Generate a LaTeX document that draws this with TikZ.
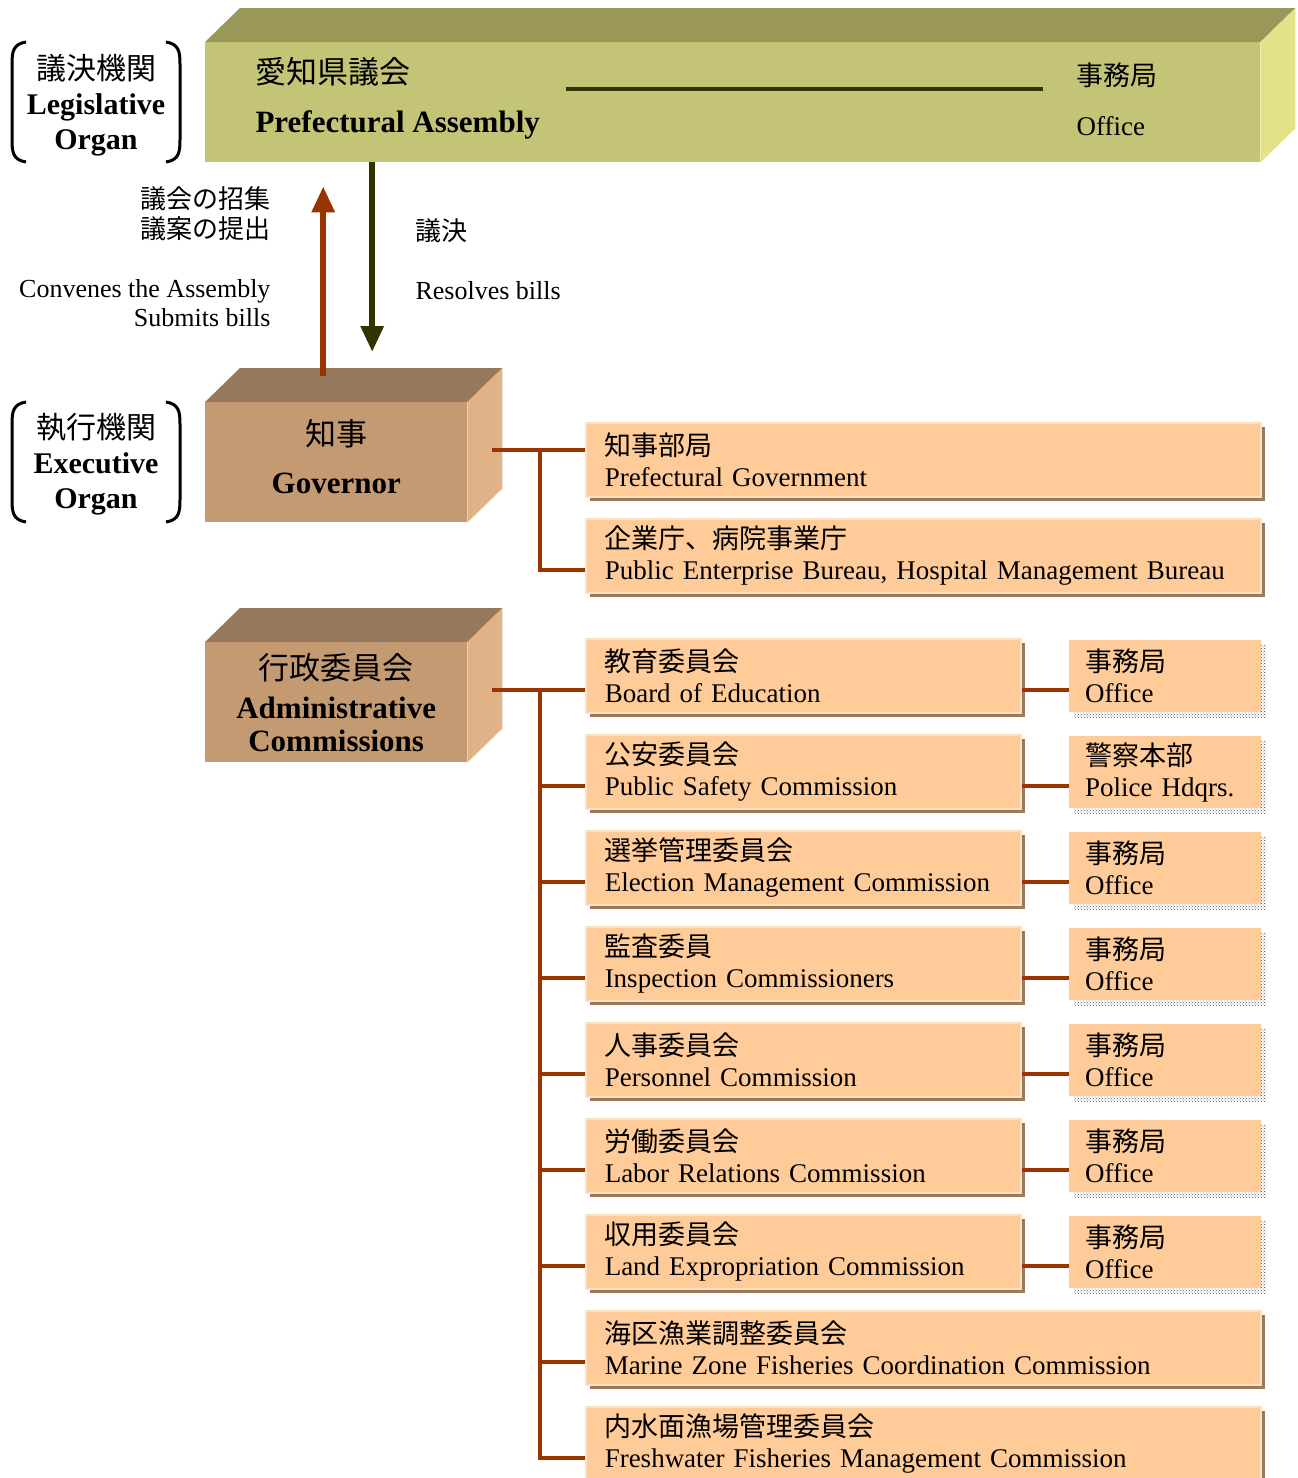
\documentclass[tikz,border=0pt]{standalone}
\usepackage{fontspec}
\setmainfont{Liberation Serif}
\newfontfamily\jp{Noto Sans CJK JP}
\usepackage{tikz}
\usetikzlibrary{positioning,calc,arrows.meta,shadows,patterns}

\definecolor{asmfront}{RGB}{196,196,118}
\definecolor{asmtop}{RGB}{153,152,89}
\definecolor{asmside}{RGB}{226,226,136}
\definecolor{exfront}{RGB}{196,154,114}
\definecolor{extop}{RGB}{150,121,91}
\definecolor{exside}{RGB}{224,178,136}
\definecolor{peach}{RGB}{255,204,153}
\definecolor{peachedge}{RGB}{255,224,190}
\definecolor{shade}{RGB}{153,122,90}
\definecolor{rust}{RGB}{153,51,0}
\definecolor{darkolive}{RGB}{51,51,0}

% top and right faces of a solid block
\newcommand{\blockfaces}[3]{%
  \fill[#2] (#1.north west) -- ++(35,-34) -- ($(#1.north east)+(35,-34)$) -- (#1.north east) -- cycle;
  \fill[#3] (#1.north east) -- ++(35,-34) -- ($(#1.south east)+(35,-34)$) -- (#1.south east) -- cycle;
}

\tikzset{
  block/.style={minimum width=262pt, minimum height=120pt, inner sep=0pt, align=center},
  organ/.style={align=center, font=\bfseries\fontsize{30}{35}\selectfont},
  unit/.style={fill=peach, draw=peachedge, line width=1.5pt, minimum height=74pt, inner sep=0pt,
    align=left, font=\fontsize{27}{31}\selectfont, anchor=north west,
    drop shadow={shadow xshift=4pt, shadow yshift=-4pt, opacity=1, fill=shade}},
  office/.style={fill=peach, minimum width=192pt, minimum height=72pt, inner sep=0pt,
    text width=160pt, align=left, font=\fontsize{27}{31}\selectfont,
    drop shadow={shadow xshift=5pt, shadow yshift=-5pt, opacity=1, pattern=crosshatch dots, pattern color=black!70}},
  link/.style={rust, line width=4pt},
  bracket/.style={line width=3pt},
}

\begin{document}
\begin{tikzpicture}[x=1pt, y=-1pt]
\clip (0,0) rectangle (1298,1478);

% assembly
\node[block, fill=asmfront, minimum width=1055pt, anchor=north west] (asm) at (205,42) {};
\blockfaces{asm}{asmtop}{asmside}
\node[anchor=west, align=left, font=\fontsize{31}{49}\selectfont] (asmname) at (252,98) {{\jp 愛知県議会}\\\textbf{Prefectural Assembly}};
\node[anchor=west, align=left, font=\fontsize{27}{50}\selectfont] (asmoffice) at (1073,99) {{\jp 事務局}\\Office};
\draw[darkolive, line width=4pt] ($(asmname.east |- 0,89)+(23,0)$) -- ($(asmoffice.west |- 0,89)+(-30,0)$);

% governor and commissions
\node[block, fill=exfront, anchor=north west, font=\bfseries\fontsize{31}{48}\selectfont] (gov) at (205,402) {{\mdseries\jp 知事}\\Governor\\[-36pt]};
\blockfaces{gov}{extop}{exside}
\node[block, fill=exfront, anchor=north west, font=\bfseries\fontsize{31}{33}\selectfont] (adm) at (205,642) {{\mdseries\jp 行政委員会}\\[6pt]Administrative\\Commissions};
\blockfaces{adm}{extop}{exside}

% organ labels
\node[organ] (legis) at (96,105) {{\mdseries\jp 議決機関}\\Legislative\\Organ};
\node[organ] (exec) at (96,464) {{\mdseries\jp 執行機関}\\Executive\\Organ};
\foreach \top in {42,402} {
  \draw[bracket] (26,\top) .. controls (13,\top+2) and (12,\top+10) .. (12,\top+22) -- (12,\top+98) .. controls (12,\top+110) and (13,\top+118) .. (26,\top+120);
  \draw[bracket] (166,\top) .. controls (179,\top+2) and (180,\top+10) .. (180,\top+22) -- (180,\top+98) .. controls (180,\top+110) and (179,\top+118) .. (166,\top+120);
}

% arrows between assembly and governor
\draw[rust, line width=6pt, -{Triangle[width=22pt,length=26pt]}] ($(gov.north)+(-13,-26)$) -- ($(gov.north |- asm.south)+(-13,24)$);
\draw[darkolive, line width=6pt, -{Triangle[width=22pt,length=26pt]}] ($(gov.north |- asm.south)+(36,0)$) -- ($(gov.north)+(36,-50)$);
\node[anchor=east, align=right, font=\fontsize{26}{30}\selectfont\jp] (callja) at (274,214) {議会の招集\\議案の提出};
\node[anchor=east, align=right, font=\fontsize{26}{29}\selectfont] (callen) at (274,303) {Convenes the Assembly\\Submits bills};
\node[anchor=west, font=\fontsize{26}{30}\selectfont\jp] (resja) at (412,231) {議決};
\node[anchor=west, font=\fontsize{26}{30}\selectfont] (resen) at (412,291) {Resolves bills};

% governor's bodies
\node[unit, minimum width=675pt, text width=637pt] (g1) at (585,422) {{\jp 知事部局}\\Prefectural Government};
\node[unit, minimum width=675pt, text width=637pt] (g2) at (585,518) {{\jp 企業庁、病院事業庁}\\Public Enterprise Bureau, Hospital Management Bureau};
\coordinate (gb) at ($(gov.east)+(25,-12)$);
\draw[link] (gb) -- (gb -| g1.west);
\draw[link] (gb -| 540,0) |- ([yshift=-14pt]g2.west);

% administrative commissions
\foreach \ja/\en/\oja/\oen [count=\i from 0] in {
  教育委員会/Board of Education/事務局/Office,
  公安委員会/Public Safety Commission/警察本部/Police Hdqrs.,
  選挙管理委員会/Election Management Commission/事務局/Office,
  監査委員/Inspection Commissioners/事務局/Office,
  人事委員会/Personnel Commission/事務局/Office,
  労働委員会/Labor Relations Commission/事務局/Office,
  収用委員会/Land Expropriation Commission/事務局/Office} {
  \node[unit, minimum width=435pt, text width=397pt] (c\i) at (585,638+96*\i) {{\jp\ja}\\\en};
  \node[office, anchor=north west] (o\i) at (1069,640+96*\i) {{\jp\oja}\\\oen};
  \coordinate (j\i) at (540,690+96*\i);
  \draw[link] (j\i) -- (j\i -| c\i.west);
  \draw[link] (j\i -| c\i.east) -- (j\i -| o\i.west);
}
\foreach \ja/\en [count=\i from 7] in {
  海区漁業調整委員会/Marine Zone Fisheries Coordination Commission,
  内水面漁場管理委員会/Freshwater Fisheries Management Commission} {
  \node[unit, minimum width=675pt, text width=637pt] (c\i) at (585,638+96*\i) {{\jp\ja}\\\en};
  \coordinate (j\i) at (540,690+96*\i);
  \draw[link] (j\i) -- (j\i -| c\i.west);
}
\coordinate (ab) at ($(adm.east)+(25,-12)$);
\draw[link] (ab) -- (ab -| c0.west);
\draw[link] (ab -| j0) -- ([yshift=-2pt]j8);
\end{tikzpicture}
\end{document}
